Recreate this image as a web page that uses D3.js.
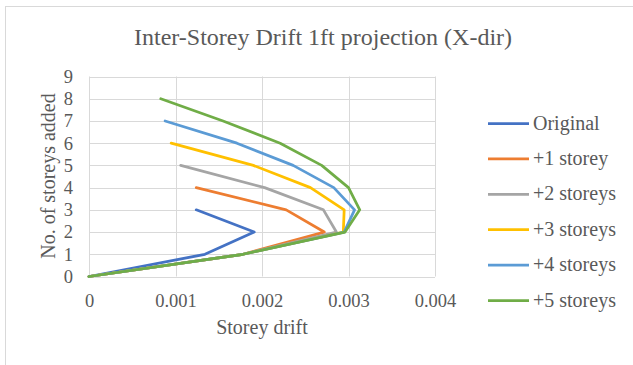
<!DOCTYPE html>
<html>
<head>
<meta charset="utf-8">
<script src="https://cdn.jsdelivr.net/npm/d3@7"></script>
</head>
<body style="margin:0;padding:0;background:#fff">
<svg id="chart" width="633" height="365" style="display:block"></svg>
<script>
// Storey levels (y) and drift values (x) for each scenario
const storeyLevels = [0, 1, 2, 3, 4, 5, 6, 7, 8];
const seriesNames = ["Original", "+1 storey", "+2 storeys", "+3 storeys", "+4 storeys", "+5 storeys"];
const seriesColors = ["#4472C4", "#ED7D31", "#A5A5A5", "#FFC000", "#5B9BD5", "#70AD47"];
const original  = [0, 0.00134, 0.00191, 0.00124];
const plus1     = [0, 0.00178, 0.00272, 0.00228, 0.00124];
const plus2     = [0, 0.00178, 0.00286, 0.00271, 0.00203, 0.00106];
const plus3     = [0, 0.00178, 0.00294, 0.00295, 0.00256, 0.00190, 0.00095];
const plus4     = [0, 0.00178, 0.00295, 0.00307, 0.00283, 0.00236, 0.00171, 0.00088];
const plus5     = [0, 0.00178, 0.00296, 0.00313, 0.00300, 0.00269, 0.00221, 0.00155, 0.00083];
const seriesValues = [original, plus1, plus2, plus3, plus4, plus5];
const xTicks = [0, 0.001, 0.002, 0.003, 0.004];
const yTicks = [0, 1, 2, 3, 4, 5, 6, 7, 8, 9];

const FONT = "Liberation Serif";
const svg = d3.select("#chart");

// outer chart frame
svg.append("rect")
  .attr("x", 5.5).attr("y", 6.5)
  .attr("width", 700).attr("height", 400)
  .attr("fill", "none").attr("stroke", "#d9d9d9").attr("stroke-width", 1);

const plot = { left: 89, right: 435, top: 76.5, bottom: 276.5 };
const x = d3.scaleLinear().domain([0, 0.004]).range([plot.left, plot.right]);
const y = d3.scaleLinear().domain([0, 9]).range([plot.bottom, plot.top]);

// gridlines
const grid = svg.append("g").attr("stroke", "#d9d9d9").attr("stroke-width", 1);
grid.selectAll("line.h").data(yTicks).join("line")
  .attr("x1", plot.left).attr("x2", plot.right)
  .attr("y1", d => Math.round(y(d)) + 0.5).attr("y2", d => Math.round(y(d)) + 0.5);
grid.selectAll("line.v").data(xTicks).join("line")
  .attr("y1", plot.top).attr("y2", plot.bottom)
  .attr("x1", d => Math.round(x(d)) + 0.5).attr("x2", d => Math.round(x(d)) + 0.5);

// axes (labels only)
const xAxis = svg.append("g")
  .attr("transform", `translate(0,${plot.bottom})`)
  .call(d3.axisBottom(x).tickValues(xTicks).tickSize(0).tickPadding(17)
    .tickFormat(d => d === 0 ? "0" : d3.format(".3f")(d)));
xAxis.select(".domain").remove();
xAxis.attr("font-family", FONT).attr("font-size", 18.5);

const yAxis = svg.append("g")
  .attr("transform", `translate(${plot.left},0)`)
  .call(d3.axisLeft(y).tickValues(yTicks).tickSize(0).tickPadding(16).tickFormat(d3.format("d")));
yAxis.select(".domain").remove();
yAxis.attr("font-family", FONT).attr("font-size", 18.5);

// series lines
const line = d3.line()
  .x(d => x(d.v))
  .y(d => y(d.s));
seriesValues.forEach((vals, i) => {
  const pts = vals.map((v, k) => ({ v, s: storeyLevels[k] }));
  svg.append("path")
    .datum(pts)
    .attr("d", line)
    .attr("fill", "none")
    .attr("stroke", seriesColors[i])
    .attr("stroke-width", 2.75)
    .attr("stroke-linejoin", "round")
    .attr("stroke-linecap", "round");
});

// titles
svg.append("text")
  .attr("x", 323).attr("y", 45)
  .attr("text-anchor", "middle")
  .attr("font-size", 24)
  .text("Inter-Storey Drift 1ft projection (X-dir)");

svg.append("text")
  .attr("x", 262).attr("y", 334)
  .attr("text-anchor", "middle")
  .attr("font-size", 20)
  .text("Storey drift");

svg.append("text")
  .attr("transform", "translate(55,176) rotate(-90)")
  .attr("text-anchor", "middle")
  .attr("font-size", 20)
  .text("No. of storeys added");

// legend
const legend = svg.append("g").attr("transform", "translate(488,123.5)");
seriesNames.forEach((name, i) => {
  const g = legend.append("g").attr("transform", `translate(0,${i * 35.4})`);
  g.append("line").attr("x1", 0).attr("x2", 41).attr("y1", 0).attr("y2", 0)
    .attr("stroke", seriesColors[i]).attr("stroke-width", 2.75);
  g.append("text").attr("x", 45).attr("y", 6)
    .attr("font-size", 20)
    .text(name);
});

// shared text styling
svg.selectAll("text")
  .attr("font-family", FONT)
  .style("font-family", FONT)
  .attr("fill", "#595959");
</script>
</body>
</html>
